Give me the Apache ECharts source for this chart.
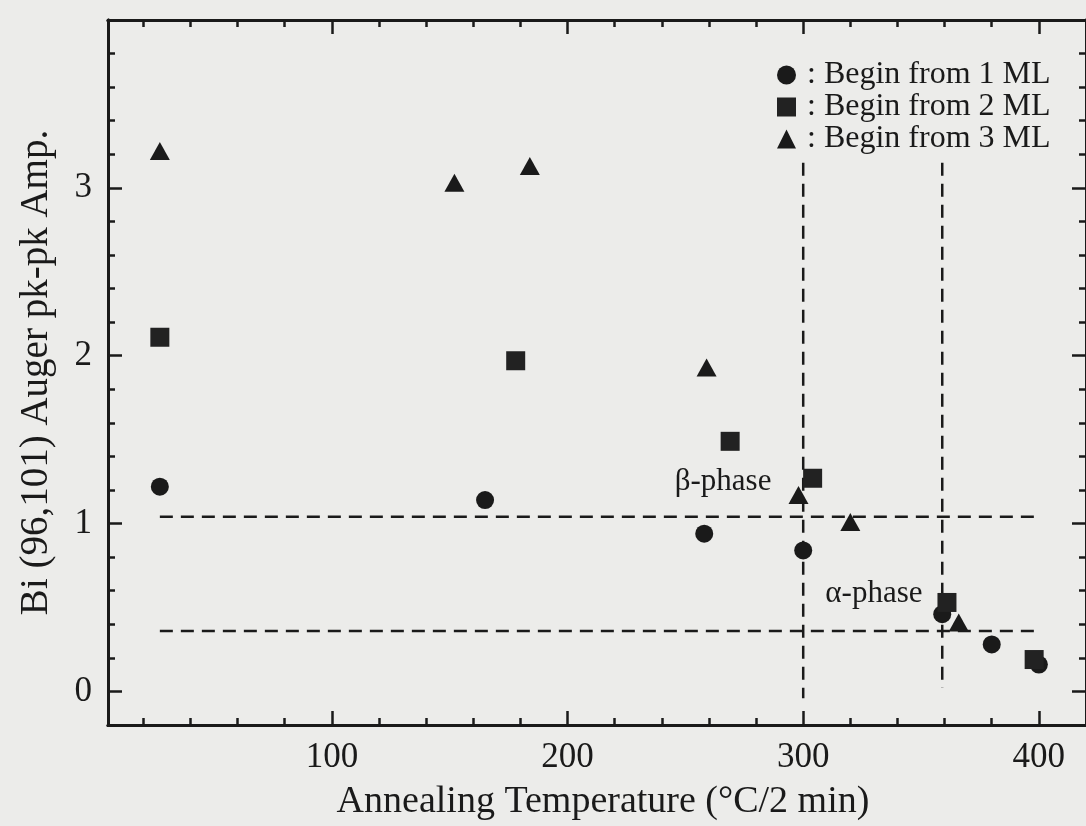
<!DOCTYPE html>
<html>
<head>
<meta charset="utf-8">
<script src="https://cdn.jsdelivr.net/npm/echarts@6/dist/echarts.min.js"></script>
<style>
html,body{margin:0;padding:0;background:#ececea;}
#c{width:1086px;height:826px;}
</style>
</head>
<body>
<div id="c"></div>
<script>
// ---- data ----
const xMajorTicks = [100, 200, 300, 400];
const xMinorTicks = [20, 40, 60, 80, 120, 140, 160, 180, 220, 240, 260, 280, 320, 340, 360, 380, 420];
const yMajorTicks = [0, 1, 2, 3];
const yMinorTicks = [-0.2, 0.2, 0.4, 0.6, 0.8, 1.2, 1.4, 1.6, 1.8, 2.2, 2.4, 2.6, 2.8, 3.2, 3.4, 3.6, 3.8];
const seriesNames = [': Begin from 1 ML', ': Begin from 2 ML', ': Begin from 3 ML'];
const begin1ML = [[27, 1.22], [165, 1.14], [258, 0.94], [300, 0.84], [359, 0.46], [380, 0.28], [400, 0.16]];
const begin2ML = [[27, 2.11], [178, 1.97], [269, 1.49], [304, 1.27], [361, 0.53], [398, 0.19]];
const begin3ML = [[27, 3.22], [152, 3.03], [184, 3.13], [259, 1.93], [298, 1.17], [320, 1.01], [366, 0.41]];
const betaLine = [[27, 1.04], [400, 1.04]];
const alphaLine = [[27, 0.36], [400, 0.36]];
const betaVertical = [[300, 3.15], [300, -0.04]];
const alphaVertical = [[359, 3.15], [359, 0.02]];
const phaseLabels = [[266, 1.25, 'β-phase'], [330, 0.58, 'α-phase']];
const xTitle = 'Annealing Temperature (°C/2 min)';
const yTitle = 'Bi (96,101) Auger pk-pk Amp.';

// ---- chart ----
const FONT = "'Liberation Serif', 'Times New Roman', serif";
const INK = '#1a1a1a';
const X_MIN = 5, X_MAX = 420, Y_MIN = -0.2, Y_MAX = 4.0;

function xAx(pos, ticks, len, labels) {
  return {
    type: 'value', position: pos, min: X_MIN, max: X_MAX,
    axisLine: { show: true, onZero: false, lineStyle: { color: INK, width: 3 } },
    splitLine: { show: false },
    axisTick: { show: true, inside: true, length: len, customValues: ticks, lineStyle: { color: INK, width: 2.5 } },
    axisLabel: labels ? { show: true, customValues: ticks, color: INK, fontFamily: FONT, fontSize: 35, margin: 15 } : { show: false }
  };
}
function yAx(pos, ticks, len, labels) {
  return {
    type: 'value', position: pos, min: Y_MIN, max: Y_MAX,
    axisLine: { show: true, onZero: false, lineStyle: { color: INK, width: 3 } },
    splitLine: { show: false },
    axisTick: { show: true, inside: true, length: len, customValues: ticks, lineStyle: { color: INK, width: 2.5 } },
    axisLabel: labels ? { show: true, customValues: ticks, color: INK, fontFamily: FONT, fontSize: 35, margin: 16 } : { show: false }
  };
}

const xAxes = [
  xAx('bottom', xMajorTicks, 14, true),
  xAx('bottom', xMinorTicks, 7, false),
  xAx('top', xMajorTicks, 14, false),
  xAx('top', xMinorTicks, 7, false)
];
Object.assign(xAxes[0], {
  name: xTitle, nameLocation: 'middle', nameGap: 58,
  nameTextStyle: { color: INK, fontFamily: FONT, fontSize: 38, padding: [0, 0, 0, 12] }
});
const yAxes = [
  yAx('left', yMajorTicks, 14, true),
  yAx('left', yMinorTicks, 7, false),
  yAx('right', yMajorTicks, 14, false),
  yAx('right', yMinorTicks, 7, false)
];
Object.assign(yAxes[0], {
  name: yTitle, nameLocation: 'middle', nameGap: 52, nameRotate: 90,
  nameTextStyle: { color: INK, fontFamily: FONT, fontSize: 39 }
});

function dashed(data) {
  return {
    type: 'line', data: data, symbol: 'none', silent: true, z: 1,
    lineStyle: { color: INK, width: 2.5, type: [13, 8], opacity: 1 }
  };
}

const option = {
  backgroundColor: '#ececea',
  animation: false,
  grid: { left: 108, right: -4, top: 20, bottom: 96, containLabel: false },
  xAxis: xAxes,
  yAxis: yAxes,
  legend: {
    orient: 'vertical', left: 772, top: 54,
    itemWidth: 19, itemHeight: 19, itemGap: 0,
    data: seriesNames,
    textStyle: { color: INK, fontFamily: FONT, fontSize: 32, lineHeight: 32, padding: [0, 0, 0, 6] }
  },
  series: [
    { name: seriesNames[0], type: 'scatter', data: begin1ML, symbol: 'circle', symbolSize: 18, itemStyle: { color: INK, opacity: 1 }, z: 3 },
    { name: seriesNames[1], type: 'scatter', data: begin2ML, symbol: 'rect', symbolSize: 19, itemStyle: { color: '#222', opacity: 1 }, z: 3 },
    { name: seriesNames[2], type: 'scatter', data: begin3ML, symbol: 'triangle', symbolSize: [20, 18], itemStyle: { color: INK, opacity: 1 }, z: 3 },
    dashed(betaLine), dashed(alphaLine), dashed(betaVertical), dashed(alphaVertical),
    {
      type: 'scatter', data: phaseLabels, symbolSize: 0, silent: true, z: 4,
      itemStyle: { opacity: 1 },
      label: {
        show: true, position: 'inside', formatter: p => p.data[2],
        color: INK, fontFamily: FONT, fontSize: 31
      }
    }
  ]
};

const chart = echarts.init(document.getElementById('c'), null, { renderer: 'canvas' });
chart.setOption(option);
</script>
</body>
</html>
